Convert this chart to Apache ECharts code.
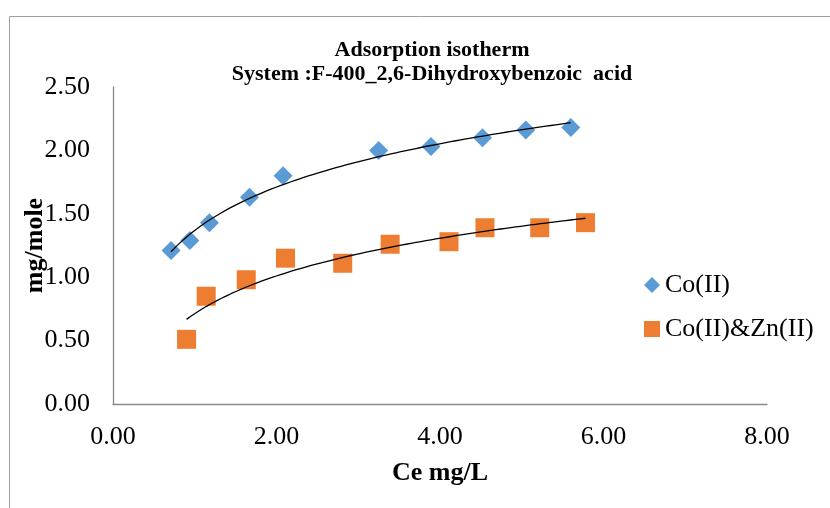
<!DOCTYPE html>
<html>
<head>
<meta charset="utf-8">
<script src="https://cdn.jsdelivr.net/npm/echarts@6/dist/echarts.min.js"></script>
<style>html,body{margin:0;padding:0;background:#fff}#c{width:830px;height:508px}</style>
</head>
<body>
<div id="c"></div>
<script>
const titleLines = ['Adsorption isotherm', 'System :F-400_2,6-Dihydroxybenzoic  acid'];
const xAxisName = 'Ce mg/L';
const yAxisName = 'mg/mole';
const seriesNames = ['Co(II)', 'Co(II)&Zn(II)'];
const coX = [0.71, 0.94, 1.18, 1.67, 2.08, 3.25, 3.89, 4.52, 5.05, 5.60];
const coY = [1.21, 1.29, 1.43, 1.63, 1.80, 2.00, 2.03, 2.10, 2.16, 2.18];
const cozX = [0.90, 1.14, 1.63, 2.11, 2.81, 3.39, 4.11, 4.55, 5.22, 5.78];
const cozY = [0.51, 0.85, 0.98, 1.15, 1.11, 1.26, 1.28, 1.39, 1.39, 1.43];

// logarithmic trendline (least squares fit y = a + b ln x), as in the original spreadsheet chart
function logFit(xs, ys) {
  const n = xs.length;
  const lx = xs.map(Math.log);
  const mx = lx.reduce((s, v) => s + v, 0) / n;
  const my = ys.reduce((s, v) => s + v, 0) / n;
  let sxy = 0, sxx = 0;
  for (let i = 0; i < n; i++) { sxy += (lx[i] - mx) * (ys[i] - my); sxx += (lx[i] - mx) * (lx[i] - mx); }
  const b = sxy / sxx, a = my - b * mx;
  const x0 = Math.min(...xs), x1 = Math.max(...xs);
  const pts = [];
  const steps = 80;
  for (let k = 0; k <= steps; k++) {
    const x = x0 + (x1 - x0) * k / steps;
    pts.push([x, a + b * Math.log(x)]);
  }
  return pts;
}

const zip = (a, b) => a.map((v, i) => [v, b[i]]);
const font = 'Liberation Serif';
const chart = echarts.init(document.getElementById('c'));
chart.setOption({
  animation: false,
  backgroundColor: '#fff',
  graphic: [{
    type: 'rect', left: 7, top: 14, shape: { width: 900, height: 600 },
    style: { fill: 'none', stroke: '#a0a0a0', lineWidth: 1 }, silent: true
  }],
  title: {
    text: titleLines.join('\n'),
    left: 427, top: 33, textAlign: 'center',
    textStyle: { fontFamily: font, fontWeight: 'bold', fontSize: 22, lineHeight: 24, color: '#000' }
  },
  legend: {
    orient: 'vertical', left: 639, top: 267, itemGap: 18,
    itemWidth: 16, itemHeight: 16,
    textStyle: { fontFamily: font, fontSize: 26, color: '#000' },
    data: [{ name: seriesNames[0], icon: 'diamond' }, { name: seriesNames[1], icon: 'rect' }]
  },
  grid: { left: 113, right: 63, top: 87, bottom: 104, containLabel: false },
  xAxis: {
    type: 'value', min: 0, max: 8, interval: 2,
    name: xAxisName, nameLocation: 'middle', nameGap: 56, nameMoveOverlap: false,
    nameTextStyle: { fontFamily: font, fontWeight: 'bold', fontSize: 26, color: '#000' },
    axisLine: { show: true, lineStyle: { color: '#898989', width: 1.3 } },
    axisTick: { show: false },
    splitLine: { show: false },
    axisLabel: { fontFamily: font, fontSize: 26, color: '#000', margin: 20, formatter: v => v.toFixed(2) }
  },
  yAxis: {
    type: 'value', min: 0, max: 2.5, interval: 0.5,
    name: yAxisName, nameLocation: 'middle', nameGap: 65, nameRotate: 90, nameMoveOverlap: false,
    nameTextStyle: { fontFamily: font, fontWeight: 'bold', fontSize: 26, color: '#000' },
    axisLine: { show: true, lineStyle: { color: '#898989', width: 1.3 } },
    axisTick: { show: false },
    splitLine: { show: false },
    axisLabel: { fontFamily: font, fontSize: 26, color: '#000', margin: 23, formatter: v => v.toFixed(2) }
  },
  series: [
    { name: seriesNames[0], type: 'scatter', symbol: 'diamond', symbolSize: 19, data: zip(coX, coY),
      itemStyle: { color: '#5B9BD5', opacity: 1 }, z: 3 },
    { name: seriesNames[1], type: 'scatter', symbol: 'rect', symbolSize: 19, data: zip(cozX, cozY),
      itemStyle: { color: '#ED7D31', opacity: 1 }, z: 3 },
    { name: 'trend1', type: 'line', data: logFit(coX, coY), showSymbol: false, smooth: false,
      lineStyle: { color: '#000', width: 1.3 }, z: 4, silent: true },
    { name: 'trend2', type: 'line', data: logFit(cozX, cozY), showSymbol: false, smooth: false,
      lineStyle: { color: '#000', width: 1.3 }, z: 4, silent: true }
  ]
});
</script>
</body>
</html>
